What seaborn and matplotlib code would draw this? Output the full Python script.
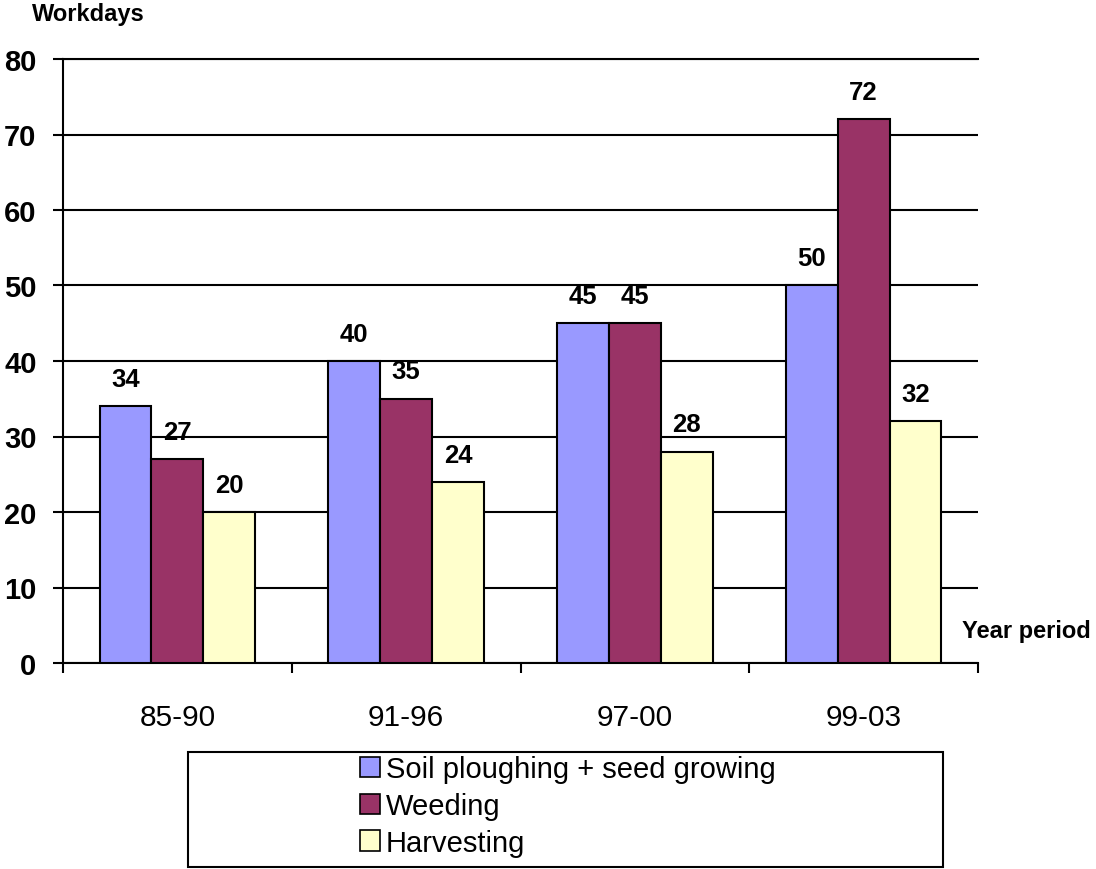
import matplotlib
matplotlib.use("Agg")
import matplotlib.pyplot as plt
import seaborn as sns
import pandas as pd
from matplotlib.patches import Rectangle, Patch

# ---- data ----
periods = ["85-90", "91-96", "97-00", "99-03"]
soil = [34, 40, 45, 50]
weeding = [27, 35, 45, 72]
harvesting = [20, 24, 28, 32]
series_names = ["Soil ploughing + seed growing", "Weeding", "Harvesting"]
colors = ["#9999FF", "#993366", "#FFFFCC"]
y_ticks = [0, 10, 20, 30, 40, 50, 60, 70, 80]

df = pd.DataFrame({
    "period": periods * 3,
    "value": soil + weeding + harvesting,
    "series": [n for n in series_names for _ in periods],
})

sns.set_theme(style="white")
plt.rcParams['font.family'] = ['Liberation Sans', 'DejaVu Sans']
plt.rcParams['text.color'] = 'black'
plt.rcParams['axes.labelcolor'] = 'black'
plt.rcParams['xtick.color'] = 'black'
plt.rcParams['ytick.color'] = 'black'

W, H = 1096, 870
fig = plt.figure(figsize=(W / 100, H / 100), dpi=100)
ax = fig.add_axes([63 / W, 206 / H, 915 / W, 604 / H])

sns.barplot(data=df, x="period", y="value", hue="series", palette=colors,
            width=0.68, edgecolor="black", linewidth=1.5, saturation=1,
            legend=False, ax=ax, zorder=3)

ax.set_xlim(-0.5, 3.5)
ax.set_ylim(0, 80)
ax.set_yticks(y_ticks)
ax.set_yticklabels([str(v) for v in y_ticks], fontsize=21, fontweight="bold",
                   color="black")
ax.yaxis.grid(True, color="black", linewidth=1.5)
ax.set_axisbelow(True)
ax.set_xlabel("")
ax.set_ylabel("")

for side in ["left", "bottom", "top"]:
    ax.spines[side].set_visible(True)
    ax.spines[side].set_color("black")
    ax.spines[side].set_linewidth(1.5)
ax.spines["right"].set_visible(False)

ax.tick_params(axis="y", which="major", direction="out", length=7, width=1.5,
               color="black", pad=12, left=True)
ax.set_xticks(range(len(periods)))
ax.set_xticklabels(periods, fontsize=21.5, color="black")
ax.set_xticks([i - 0.5 for i in range(len(periods) + 1)], minor=True)
ax.tick_params(axis="x", which="major", length=0, pad=29)
ax.tick_params(axis="x", which="minor", direction="out", length=7, width=1.5,
               color="black", bottom=True)

for c in ax.containers:
    ax.bar_label(c, padding=11, fontsize=18.5, fontweight="bold", color="black")

fig.text(32 / W, 1 - 15 / H, "Workdays", fontsize=17, fontweight="bold",
         ha="left", va="center", color="black")
fig.text(962 / W, (H - 632) / H, "Year period", fontsize=17, fontweight="bold",
         ha="left", va="center", color="black")

# legend box
fig.patches.append(Rectangle((188 / W, 2 / H), 755 / W, 115 / H,
                             transform=fig.transFigure, fill=False,
                             edgecolor="black", linewidth=1.5))
handles = [Patch(facecolor=c, edgecolor="black", linewidth=1.2) for c in colors]
leg = fig.legend(handles, series_names, loc="center",
                 bbox_to_anchor=(567.5 / W, 63 / H), frameon=False, fontsize=21,
                 handlelength=0.7, handleheight=0.7, handletextpad=0.2,
                 labelspacing=0.3, borderpad=0)
for t in leg.get_texts():
    t.set_color("black")

fig.savefig("out.png", dpi=100)
